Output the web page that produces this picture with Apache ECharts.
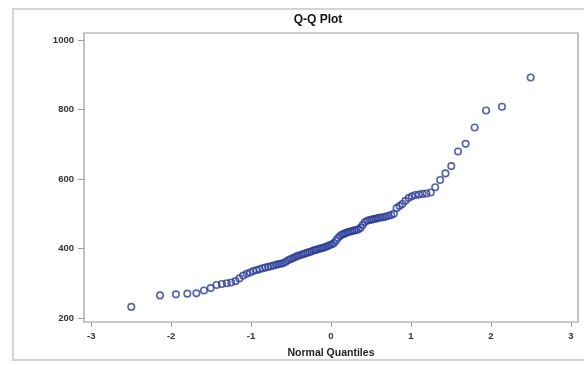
<!DOCTYPE html>
<html>
<head>
<meta charset="utf-8">
<script src="https://cdn.jsdelivr.net/npm/echarts@6/dist/echarts.min.js"></script>
<style>html,body{margin:0;padding:0;background:#fff}#c{width:584px;height:365px}</style>
</head>
<body>
<div id="c"></div>
<script>
const chartTitle = "Q-Q Plot";
const xAxisName = "Normal Quantiles";
const xTicks = [-3, -2, -1, 0, 1, 2, 3];
const yTicks = [200, 400, 600, 800, 1000];
// normal quantiles (x), n = 100
const normalQuantiles = [
  -2.498,-2.139,-1.940,-1.797,-1.684,-1.589,-1.505,-1.432,-1.365,-1.304,
  -1.248,-1.195,-1.146,-1.099,-1.054,-1.012,-0.971,-0.931,-0.893,-0.857,
  -0.821,-0.786,-0.753,-0.720,-0.688,-0.657,-0.626,-0.596,-0.566,-0.537,
  -0.509,-0.481,-0.453,-0.425,-0.398,-0.371,-0.344,-0.318,-0.292,-0.266,
  -0.240,-0.214,-0.189,-0.164,-0.138,-0.113,-0.088,-0.063,-0.038,-0.013,
  0.013,0.038,0.063,0.088,0.113,0.138,0.164,0.189,0.214,0.240,
  0.266,0.292,0.318,0.344,0.371,0.398,0.425,0.453,0.481,0.509,
  0.537,0.566,0.596,0.626,0.657,0.688,0.720,0.753,0.786,0.821,
  0.857,0.893,0.931,0.971,1.012,1.054,1.099,1.146,1.195,1.248,
  1.304,1.365,1.432,1.505,1.589,1.684,1.797,1.940,2.139,2.498
];
// ordered sample values (y)
const sampleValues = [
  232,265,268,270,271,279,286,295,298,300,
  302,306,314,322,327,331,335,338,340,343,
  345,347,349,351,353,355,356,358,362,366,
  369,372,375,378,380,382,384,386,388,390,
  392,395,396,398,400,401,403,405,407,410,
  412,416,423,430,436,440,442,445,447,449,
  450,452,453,455,460,468,476,480,482,483,
  485,486,488,489,490,492,494,496,500,516,
  522,528,537,545,550,554,555,557,558,561,
  576,597,616,637,679,701,748,797,808,892
];

const points = normalQuantiles.map((q, i) => [q, sampleValues[i]]);
const FONT = "Liberation Sans";

const chart = echarts.init(document.getElementById('c'), null, {renderer: 'canvas'});
chart.setOption({
  animation: false,
  backgroundColor: '#fff',
  title: {
    text: chartTitle, left: 313, top: 9, textAlign: 'center',
    textStyle: {fontFamily: FONT, fontSize: 12, fontWeight: 'bold', color: '#111'}
  },
  graphic: [{
    type: 'rect', shape: {x: 13, y: 9, width: 600, height: 351},
    style: {fill: 'none', stroke: '#d4d4d4', lineWidth: 2}, silent: true
  }],
  grid: {left: 84, right: 6, top: 33, bottom: 43, show: true, borderColor: '#9a9a9a', borderWidth: 1.2, backgroundColor: '#fff'},
  xAxis: {
    type: 'value', min: -3.09, max: 3.09,
    name: xAxisName, nameLocation: 'middle', nameGap: 26,
    nameTextStyle: {fontFamily: FONT, fontSize: 10.5, fontWeight: 'bold', color: '#222'},
    axisLine: {show: false, onZero: false},
    splitLine: {show: false},
    axisTick: {show: true, length: 5, lineStyle: {color: '#9a9a9a'}, customValues: xTicks},
    axisLabel: {customValues: xTicks, margin: 9, fontFamily: FONT, fontSize: 9.5, fontWeight: 'bold', color: '#333',
      formatter: v => String(v)}
  },
  yAxis: {
    type: 'value', min: 188.5, max: 1020,
    axisLine: {show: false, onZero: false},
    splitLine: {show: false},
    axisTick: {show: true, length: 6, lineStyle: {color: '#9a9a9a'}, customValues: yTicks},
    axisLabel: {customValues: yTicks, margin: 10, fontFamily: FONT, fontSize: 9.5, fontWeight: 'bold', color: '#333',
      formatter: v => String(v)}
  },
  series: [{
    type: 'scatter', data: points,
    symbol: 'circle', symbolSize: 6.5,
    itemStyle: {color: 'rgba(0,0,0,0)', borderColor: '#2a3c96', borderWidth: 1.6}
  }]
});
</script>
</body>
</html>
